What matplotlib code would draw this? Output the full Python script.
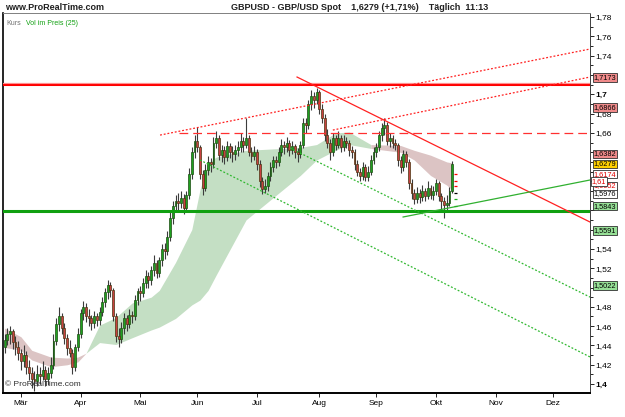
import matplotlib
matplotlib.use('Agg')
import matplotlib.pyplot as plt
import numpy as np
import pandas as pd

plt.rcParams['font.family'] = ['Liberation Sans', 'DejaVu Sans']

# daily candles, GBP/USD, 20.02.2009 - 09.10.2009
dates = pd.bdate_range('2009-02-20', '2009-10-09')

opens = [
    1.438, 1.446, 1.452, 1.455, 1.444, 1.438, 1.432, 1.424, 1.430, 1.418,
    1.412, 1.405, 1.403, 1.410, 1.408, 1.415, 1.405, 1.412, 1.420, 1.445,
    1.462, 1.470, 1.458, 1.448, 1.437, 1.432, 1.418, 1.438, 1.452, 1.474,
    1.480, 1.470, 1.468, 1.463, 1.470, 1.466, 1.475, 1.485, 1.495, 1.503,
    1.497, 1.470, 1.450, 1.447, 1.458, 1.468, 1.462, 1.472, 1.470, 1.487,
    1.496, 1.494, 1.505, 1.512, 1.508, 1.518, 1.525, 1.515, 1.528, 1.540,
    1.538, 1.552, 1.572, 1.584, 1.590, 1.588, 1.593, 1.582, 1.596, 1.618,
    1.640, 1.652, 1.645, 1.618, 1.603, 1.622, 1.630, 1.628, 1.650, 1.655,
    1.637, 1.642, 1.635, 1.646, 1.640, 1.638, 1.642, 1.645, 1.652, 1.648,
    1.655, 1.640, 1.636, 1.640, 1.628, 1.610, 1.602, 1.605, 1.615, 1.625,
    1.632, 1.630, 1.640, 1.648, 1.645, 1.650, 1.642, 1.646, 1.640, 1.638,
    1.648, 1.670, 1.668, 1.690, 1.698, 1.694, 1.702, 1.685, 1.676, 1.658,
    1.650, 1.640, 1.655, 1.648, 1.655, 1.645, 1.652, 1.650, 1.642, 1.640,
    1.628, 1.620, 1.615, 1.625, 1.614, 1.620, 1.632, 1.640, 1.645, 1.658,
    1.665, 1.668, 1.652, 1.655, 1.650, 1.648, 1.632, 1.625, 1.638, 1.630,
    1.608, 1.598, 1.592, 1.598, 1.594, 1.600, 1.595, 1.603, 1.596, 1.600,
    1.608, 1.595, 1.590, 1.585, 1.588, 1.600]
highs = [
    1.452, 1.458, 1.460, 1.457, 1.450, 1.445, 1.436, 1.440, 1.434, 1.425,
    1.418, 1.414, 1.420, 1.418, 1.424, 1.419, 1.418, 1.428, 1.452, 1.468,
    1.480, 1.474, 1.463, 1.452, 1.446, 1.436, 1.442, 1.458, 1.478, 1.486,
    1.484, 1.478, 1.472, 1.476, 1.474, 1.480, 1.490, 1.500, 1.508, 1.506,
    1.499, 1.474, 1.458, 1.464, 1.474, 1.472, 1.478, 1.476, 1.492, 1.500,
    1.502, 1.510, 1.518, 1.516, 1.522, 1.534, 1.528, 1.532, 1.545, 1.546,
    1.558, 1.578, 1.590, 1.596, 1.598, 1.600, 1.597, 1.600, 1.624, 1.645,
    1.658, 1.666, 1.648, 1.622, 1.628, 1.636, 1.634, 1.656, 1.662, 1.658,
    1.648, 1.646, 1.652, 1.650, 1.646, 1.648, 1.652, 1.660, 1.656, 1.676,
    1.658, 1.645, 1.646, 1.643, 1.632, 1.614, 1.612, 1.620, 1.630, 1.636,
    1.636, 1.645, 1.654, 1.652, 1.656, 1.653, 1.652, 1.649, 1.644, 1.652,
    1.675, 1.676, 1.694, 1.704, 1.702, 1.707, 1.704, 1.690, 1.680, 1.664,
    1.654, 1.660, 1.658, 1.662, 1.658, 1.658, 1.656, 1.653, 1.647, 1.643,
    1.632, 1.624, 1.630, 1.628, 1.626, 1.637, 1.645, 1.650, 1.662, 1.670,
    1.675, 1.671, 1.660, 1.658, 1.654, 1.650, 1.636, 1.642, 1.641, 1.633,
    1.612, 1.602, 1.604, 1.602, 1.606, 1.603, 1.610, 1.606, 1.605, 1.612,
    1.610, 1.598, 1.594, 1.596, 1.604, 1.631]
lows = [
    1.432, 1.440, 1.441, 1.436, 1.430, 1.425, 1.415, 1.418, 1.410, 1.404,
    1.396, 1.393, 1.398, 1.400, 1.404, 1.398, 1.399, 1.406, 1.416, 1.440,
    1.455, 1.452, 1.442, 1.430, 1.428, 1.410, 1.414, 1.434, 1.448, 1.466,
    1.464, 1.460, 1.456, 1.458, 1.460, 1.461, 1.470, 1.480, 1.488, 1.490,
    1.465, 1.444, 1.438, 1.443, 1.452, 1.455, 1.458, 1.463, 1.466, 1.482,
    1.486, 1.490, 1.500, 1.500, 1.503, 1.512, 1.510, 1.511, 1.522, 1.530,
    1.534, 1.548, 1.566, 1.578, 1.580, 1.582, 1.576, 1.578, 1.592, 1.612,
    1.634, 1.640, 1.612, 1.596, 1.600, 1.616, 1.620, 1.624, 1.644, 1.632,
    1.630, 1.628, 1.631, 1.634, 1.630, 1.632, 1.636, 1.640, 1.640, 1.644,
    1.636, 1.630, 1.632, 1.622, 1.604, 1.597, 1.598, 1.600, 1.610, 1.620,
    1.624, 1.626, 1.636, 1.638, 1.640, 1.636, 1.638, 1.634, 1.630, 1.634,
    1.644, 1.660, 1.664, 1.684, 1.686, 1.690, 1.680, 1.670, 1.652, 1.644,
    1.632, 1.636, 1.642, 1.644, 1.640, 1.641, 1.644, 1.636, 1.634, 1.622,
    1.615, 1.610, 1.611, 1.610, 1.610, 1.616, 1.628, 1.635, 1.641, 1.652,
    1.658, 1.648, 1.645, 1.644, 1.642, 1.626, 1.619, 1.621, 1.625, 1.602,
    1.592, 1.586, 1.588, 1.588, 1.590, 1.590, 1.592, 1.592, 1.591, 1.596,
    1.590, 1.580, 1.572, 1.580, 1.584, 1.598]
closes = [
    1.446, 1.452, 1.455, 1.444, 1.438, 1.432, 1.424, 1.430, 1.418, 1.412,
    1.405, 1.403, 1.410, 1.408, 1.415, 1.405, 1.412, 1.420, 1.445, 1.462,
    1.470, 1.458, 1.448, 1.437, 1.432, 1.418, 1.438, 1.452, 1.474, 1.480,
    1.470, 1.468, 1.463, 1.470, 1.466, 1.475, 1.485, 1.495, 1.503, 1.497,
    1.470, 1.450, 1.447, 1.458, 1.468, 1.462, 1.472, 1.470, 1.487, 1.496,
    1.494, 1.505, 1.512, 1.508, 1.518, 1.525, 1.515, 1.528, 1.540, 1.538,
    1.552, 1.572, 1.584, 1.590, 1.588, 1.593, 1.582, 1.596, 1.618, 1.640,
    1.652, 1.645, 1.618, 1.603, 1.622, 1.630, 1.628, 1.650, 1.655, 1.637,
    1.642, 1.635, 1.646, 1.640, 1.638, 1.642, 1.645, 1.652, 1.648, 1.655,
    1.640, 1.636, 1.640, 1.628, 1.610, 1.602, 1.605, 1.615, 1.625, 1.632,
    1.630, 1.640, 1.648, 1.645, 1.650, 1.642, 1.646, 1.640, 1.638, 1.648,
    1.670, 1.668, 1.690, 1.698, 1.694, 1.702, 1.685, 1.676, 1.658, 1.650,
    1.640, 1.655, 1.648, 1.655, 1.645, 1.652, 1.650, 1.642, 1.640, 1.628,
    1.620, 1.615, 1.625, 1.614, 1.620, 1.632, 1.640, 1.645, 1.658, 1.665,
    1.668, 1.652, 1.655, 1.650, 1.648, 1.632, 1.625, 1.638, 1.630, 1.608,
    1.598, 1.592, 1.598, 1.594, 1.600, 1.595, 1.603, 1.596, 1.600, 1.608,
    1.595, 1.590, 1.585, 1.588, 1.600, 1.6279]

# "Vol im Preis (25)" ribbon, read at a few bar positions
pink1_idx = [0, 6, 10, 17, 23, 27, 30]
pink1_top = [1.458, 1.449, 1.435, 1.428, 1.427, 1.428, 1.432]
pink1_bot = [1.438, 1.435, 1.425, 1.418, 1.420, 1.423, 1.432]
green_idx = [30, 35, 41, 47, 54, 57, 63, 69, 72, 75, 78, 89, 109, 115, 122, 127, 135]
green_top = [1.432, 1.461, 1.469, 1.484, 1.490, 1.497, 1.526, 1.560, 1.601, 1.629,
             1.635, 1.642, 1.645, 1.648, 1.660, 1.661, 1.648]
green_bot = [1.432, 1.443, 1.441, 1.448, 1.456, 1.459, 1.468, 1.482, 1.487, 1.497,
             1.513, 1.570, 1.616, 1.632, 1.642, 1.648, 1.644]
pink2_idx = [135, 146, 151, 157, 163, 165]
pink2_top = [1.648, 1.647, 1.642, 1.637, 1.630, 1.629]
pink2_bot = [1.644, 1.640, 1.632, 1.616, 1.606, 1.601]

# trend lines (bar index, price)
red_hline = 1.7106
green_hline = 1.5797
red_dash_level = 1.66
red_dash_start = 64.3
red_dot_upper = ([57.3, 215.8], [1.6578, 1.7469])
red_dot_lower = ([121.0, 215.8], [1.6630, 1.7179])
red_down = ([107.8, 215.8], [1.7179, 1.5678])
green_dot_a = ([72.0, 215.8], [1.6320, 1.4281])
green_dot_b = ([105.2, 215.8], [1.6444, 1.4901])
green_up = ([146.9, 215.8], [1.5730, 1.6113])

# price boxes on the right scale: (value, text, face, text colour)
price_boxes = [
    (1.7173, '1,7173', '#f08a8a', '#000000'),
    (1.6866, '1,6866', '#f08a8a', '#000000'),
    (1.5022, '1,5022', '#96e096', '#000000'),
    (1.5591, '1,5591', '#96e096', '#000000'),
    (1.5843, '1,5843', '#96e096', '#000000'),
    (1.5976, '1,5976', '#ffffff', '#000000'),
    (1.6052, '1,6052', '#ffffff', '#e00000'),
    (1.6174, '1,6174', '#ffffff', '#e00000'),
    (1.6382, '1,6382', '#f08a8a', '#000000'),
    (1.6279, '1,6279', '#ffd000', '#000000'),
    (1.6100, '1,61', '#ffffff', '#e00000'),
]
# scale labels that sit under the price boxes
hidden_ticks = [1.72, 1.64, 1.62, 1.60, 1.58, 1.56, 1.50]
month_names = ['Mär', 'Apr', 'Mai', 'Jun', 'Jul', 'Aug', 'Sep', 'Okt', 'Nov', 'Dez']

W, H = 625, 417
fig = plt.figure(figsize=(W / 100, H / 100), dpi=100)
ax = fig.add_axes([3 / W, 1 - 392.7 / H, 587 / W, 380 / H])

x = np.arange(len(closes))
o = np.array(opens); c = np.array(closes)
hi = np.array(highs); lo = np.array(lows)
up = c >= o

# ribbon
ax.fill_between(pink1_idx, pink1_bot, pink1_top, color='#dcc4c4', lw=0, zorder=1)
ax.fill_between(green_idx, green_bot, green_top, color='#c4dfc4', lw=0, zorder=1)
ax.fill_between(pink2_idx, pink2_bot, pink2_top, color='#dcc4c4', lw=0, zorder=1)

# candles
ax.vlines(x, lo, hi, color='#3c3c3c', lw=0.8, zorder=3)
body = np.maximum(np.abs(c - o), 0.0006)
ax.bar(x[up], body[up], bottom=np.minimum(o, c)[up], width=0.7,
       color='#1fa01f', edgecolor='#1d4d12', lw=0.5, zorder=4)
ax.bar(x[~up], body[~up], bottom=np.minimum(o, c)[~up], width=0.7,
       color='#c84040', edgecolor='#4a3510', lw=0.5, zorder=4)

# lines
ax.axhline(red_hline, color='#ff0000', lw=2.2, zorder=5)
ax.axhline(red_hline + 0.0012, color='#ff9090', lw=0.8, zorder=5)
ax.axhline(green_hline, color='#10a010', lw=2.2, zorder=5)
ax.plot([red_dash_start, 215.8], [red_dash_level] * 2, color='#ff3030', lw=0.9,
        dashes=(7, 4), zorder=5)
ax.plot(*red_dot_upper, color='#ff2020', lw=0.9, dashes=(1.5, 1.5), zorder=5)
ax.plot(*red_dot_lower, color='#ff2020', lw=0.9, dashes=(1.5, 1.5), zorder=5)
ax.plot(*red_down, color='#ff2020', lw=0.9, zorder=5)
ax.plot(*green_dot_a, color='#30b830', lw=0.9, dashes=(1.5, 1.5), zorder=5)
ax.plot(*green_dot_b, color='#30b830', lw=0.9, dashes=(1.5, 1.5), zorder=5)
ax.plot(*green_up, color='#30b030', lw=0.9, zorder=5)

# little price markers on the last bar
ax.hlines([1.6174, 1.61, 1.6052], x[-1] + 0.6, x[-1] + 1.8, color='#ff0000', lw=0.9, zorder=5)
ax.hlines([1.5976], x[-1] + 0.6, x[-1] + 1.8, color='#000000', lw=0.9, zorder=5)
ax.hlines([1.592, 1.5843], x[-1] + 0.6, x[-1] + 1.8, color='#20b020', lw=0.9, zorder=5)

ax.set_xlim(-0.6, 215.8)
ax.set_ylim(1.3911, 1.7845)

# x ticks: first trading day of every month
all_days = pd.bdate_range('2009-02-20', '2009-12-31')
tick_pos = []
for m in range(3, 13):
    tick_pos.append(int(np.argmax((all_days.month == m))))
ax.set_xticks(tick_pos)
ax.set_xticklabels(month_names)
ax.tick_params(axis='x', labelsize=6, length=3, width=0.6, pad=2, colors='#000000')

# y ticks on the right
ax.yaxis.tick_right()
yt = np.round(np.arange(1.40, 1.781, 0.02), 2)
ax.set_yticks(yt)
ax.set_yticks(np.round(np.arange(1.41, 1.78, 0.02), 2), minor=True)
ylabels = []
for v in yt:
    if any(abs(v - h) < 1e-6 for h in hidden_ticks):
        ylabels.append('')
    else:
        ylabels.append(('%.2f' % v).rstrip('0').rstrip('.').replace('.', ','))
ax.set_yticklabels(ylabels)
for v, t in zip(yt, ax.get_yticklabels()):
    if abs(v * 10 - round(v * 10)) < 1e-6:
        t.set_fontweight('bold')
        t.set_fontsize(7)
ax.tick_params(axis='y', which='major', labelsize=6, length=3, width=0.6, pad=1)
ax.tick_params(axis='y', which='minor', length=2, width=0.6)

for s in ['left', 'bottom']:
    ax.spines[s].set_color('#000000')
ax.spines['left'].set_linewidth(1.2)
ax.spines['bottom'].set_linewidth(1.4)
ax.spines['top'].set_color('#808080')
ax.spines['top'].set_linewidth(0.7)
ax.spines['right'].set_color('#404040')
ax.spines['right'].set_linewidth(0.7)

for val, txt, face, tc in price_boxes:
    xo = 1.003 if txt == '1,61' else 1.006
    ax.text(xo, val, txt, transform=ax.get_yaxis_transform(), fontsize=5.3,
            color=tc, ha='left', va='center', zorder=10, clip_on=False,
            bbox=dict(boxstyle='square,pad=0.12', fc=face, ec='#303030', lw=0.6))

# header and legend texts
fig.text(5 / W, 1 - 7 / H, 'www.ProRealTime.com', fontsize=6.5, fontweight='bold',
         ha='left', va='center', color='#202020')
fig.text(360 / W, 1 - 7 / H,
         'GBPUSD - GBP/USD Spot    1,6279 (+1,71%)    Täglich  11:13',
         fontsize=6.5, fontweight='bold', ha='center', va='center', color='#202020')
ax.text(0.006, 0.98, 'Kurs', transform=ax.transAxes, fontsize=5, color='#707070',
        ha='left', va='top')
ax.text(0.04, 0.98, 'Vol im Preis (25)', transform=ax.transAxes, fontsize=5,
        color='#10a010', ha='left', va='top')
ax.text(0.004, 0.012, '© ProRealTime.com', transform=ax.transAxes, fontsize=6,
        color='#303030', ha='left', va='bottom', zorder=8)

fig.savefig('out.png', dpi=100)
